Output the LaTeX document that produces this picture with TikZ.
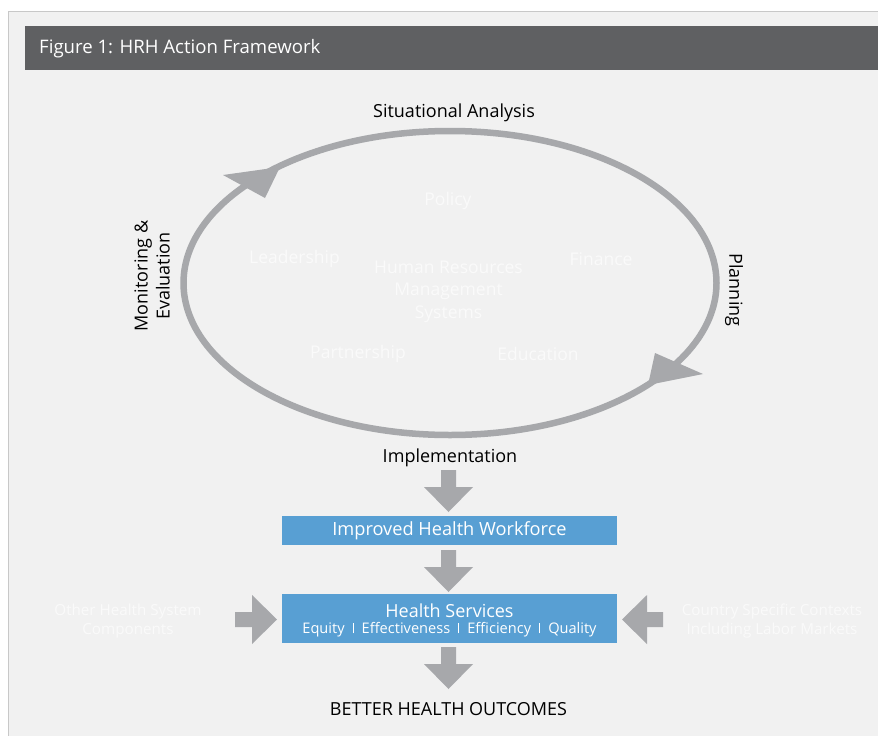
\documentclass[tikz,border=0pt]{standalone}
\usepackage{fontspec}
\setmainfont{Open Sans}
\usetikzlibrary{calc}
\definecolor{panelbg}{HTML}{F1F1F1}
\definecolor{panelline}{HTML}{C8C8C8}
\definecolor{headbg}{HTML}{5F6062}
\definecolor{ringgray}{HTML}{A7A8AB}
\definecolor{boxblue}{HTML}{589FD3}
\definecolor{faint}{HTML}{FAFAFA}
\newcommand{\blockdown}[1]{%
  \fill[ringgray] ($(#1)+(-7.5,0)$) -- ($(#1)+(7.5,0)$) -- ($(#1)+(7.5,17)$) -- ($(#1)+(24.5,17)$)
    -- ($(#1)+(0,42)$) -- ($(#1)+(-24.5,17)$) -- ($(#1)+(-7.5,17)$) -- cycle;}
\newcommand{\blockright}[1]{%
  \fill[ringgray] ($(#1)+(0,-7.5)$) -- ($(#1)+(0,7.5)$) -- ($(#1)+(17,7.5)$) -- ($(#1)+(17,24.5)$)
    -- ($(#1)+(42,0)$) -- ($(#1)+(17,-24.5)$) -- ($(#1)+(17,-7.5)$) -- cycle;}
\newcommand{\blockleft}[1]{%
  \fill[ringgray] ($(#1)+(0,-7.5)$) -- ($(#1)+(0,7.5)$) -- ($(#1)+(-16,7.5)$) -- ($(#1)+(-16,24.5)$)
    -- ($(#1)+(-41,0)$) -- ($(#1)+(-16,-24.5)$) -- ($(#1)+(-16,-7.5)$) -- cycle;}
\newcommand{\sepbar}{\hspace{0.55em}\rule{1pt}{10.5pt}\hspace{0.55em}}
\begin{document}
\begin{tikzpicture}[x=1pt,y=-1pt,
  lbl/.style={inner sep=0pt, text=black, font=\fontsize{18}{22}\selectfont},
  inner/.style={inner sep=0pt, text=faint, font=\fontsize{17.5}{22.5}\selectfont, align=center},
  side/.style={inner sep=0pt, text=faint, font=\fontsize{15.2}{19}\selectfont, align=center},
  bluebox/.style={fill=boxblue, inner sep=0pt, text=white, minimum width=335pt, align=center}]
\useasboundingbox (0,0) rectangle (878,736);
\fill[white] (0,0) rectangle (878,736);
\fill[panelbg] (8,11) rectangle (878,736);
\draw[panelline, line width=1pt] (8,736) -- (8,11) -- (878,11);
\fill[headbg] (25,26) rectangle (878,70);
\node[anchor=west, inner sep=0pt, text=white, font=\fontsize{18.6}{22}\selectfont] (title) at (39,49) {Figure 1: HRH Action Framework};

% cycle
\draw[ringgray, line width=6.5pt] (450,283) ellipse [x radius=266.5, y radius=152];
\fill[ringgray] (223,175) -- (280,167) -- (265,198) -- cycle;
\fill[ringgray] (655,353) -- (703,374) -- (648,385) -- cycle;

\node[lbl] (sa) at (454,112.5) {Situational Analysis};
\node[lbl, rotate=-90] (plan) at (734,290) {Planning};
\node[lbl, rotate=90, align=center] (me) at (152,276) {Monitoring \&\\Evaluation};
\node[lbl] (impl) at (450,457.5) {Implementation};

\node[inner] (policy) at (448,201) {Policy};
\node[inner] (lead) at (294.5,259) {Leadership};
\node[inner] (fin) at (601,259) {Finance};
\node[inner] (hrms) at (448.5,291.5) {Human Resources\\Management\\Systems};
\node[inner] (part) at (358,354) {Partnership};
\node[inner] (edu) at (538,354) {Education};

% flow
\node[bluebox, minimum height=29pt, font=\fontsize{18.2}{22}\selectfont] (ihw) at (449.5,530.5) {Improved Health Workforce};
\node[bluebox, minimum height=49pt] (hs) at (449.5,618.5) {};
\node[inner sep=0pt, text=white, font=\fontsize{18}{20}\selectfont] (hst) at (449.5,611) {Health Services};
\node[inner sep=0pt, text=white, font=\fontsize{14.6}{17}\selectfont] (hsq) at (449.5,629.5) {Equity\sepbar Effectiveness\sepbar Efficiency\sepbar Quality};
\node[lbl] (out) at (448.5,709) {BETTER HEALTH OUTCOMES};

\node[side] (other) at (128,621.5) {Other Health System\\Components};
\node[side] (country) at (772,621.5) {Country Specific Contexts\\Including Labor Markets};

\coordinate (a1) at (448.5,470);
\coordinate (a2) at (448.5,550);
\coordinate (a3) at (448.5,647);
\coordinate (al) at (235,619.5);
\coordinate (ar) at (663,619.5);
\blockdown{a1}
\blockdown{a2}
\blockdown{a3}
\blockright{al}
\blockleft{ar}
\end{tikzpicture}
\end{document}
